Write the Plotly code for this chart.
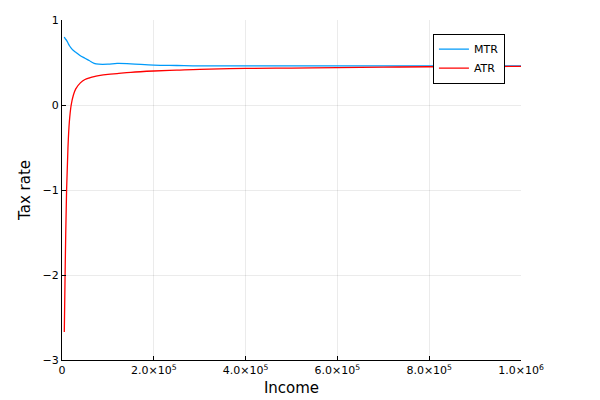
import plotly.graph_objects as go

income = [5000, 7000, 10000, 13000, 16000, 20000, 25000, 30000, 40000, 50000, 60000, 70000,
          80000, 100000, 120000, 150000, 200000, 250000, 300000, 400000, 500000, 600000,
          700000, 800000, 900000, 1000000]
mtr = [0.80, 0.78, 0.76, 0.73, 0.70, 0.67, 0.64, 0.62, 0.58, 0.55, 0.52, 0.49,
       0.48, 0.48, 0.49, 0.485, 0.47, 0.465, 0.46, 0.46, 0.46, 0.46, 0.46, 0.46, 0.46, 0.46]
atr = [-2.67, -1.9, -1.0, -0.5, -0.2, 0.0, 0.12, 0.19, 0.26, 0.30, 0.32, 0.335,
       0.345, 0.36, 0.37, 0.385, 0.40, 0.41, 0.42, 0.43, 0.435, 0.44, 0.445, 0.45, 0.45, 0.455]

xticks = [0, 200000, 400000, 600000, 800000, 1000000]
xlabels = ["0", "2.0×10<sup>5</sup>", "4.0×10<sup>5</sup>", "6.0×10<sup>5</sup>",
           "8.0×10<sup>5</sup>", "1.0×10<sup>6</sup>"]

fig = go.Figure()
fig.add_trace(go.Scatter(x=income, y=mtr, name="MTR", mode="lines",
                         line=dict(color="#009af9", width=1.3, shape="spline")))
fig.add_trace(go.Scatter(x=income, y=atr, name="ATR", mode="lines",
                         line=dict(color="red", width=1.3, shape="spline")))

axis = dict(showline=True, linecolor="black", linewidth=1, mirror=False,
            ticks="inside", ticklen=4, tickcolor="black", automargin=False,
            showgrid=True, gridcolor="rgba(0,0,0,0.08)", zeroline=False,
            tickfont=dict(size=11, color="black"))
fig.update_xaxes(range=[0, 1000000], tickvals=xticks, ticktext=xlabels,
                 title=dict(text="Income", font=dict(size=15), standoff=6), **axis)
fig.update_yaxes(range=[-3, 1], tickvals=[-3, -2, -1, 0, 1],
                 ticktext=["−3", "−2", "−1", "0", "1"],
                 title=dict(text="Tax rate", font=dict(size=15), standoff=8), **axis)
fig.update_layout(
    width=600, height=400, plot_bgcolor="white", paper_bgcolor="white",
    font=dict(family="DejaVu Sans", color="black"),
    margin=dict(l=54, r=87, t=12, b=48),
    legend=dict(x=0.965, y=0.96, xanchor="right", yanchor="top",
                bordercolor="black", borderwidth=1, font=dict(size=11),
                bgcolor="white", tracegroupgap=0),
)
fig.write_html("out.html")
